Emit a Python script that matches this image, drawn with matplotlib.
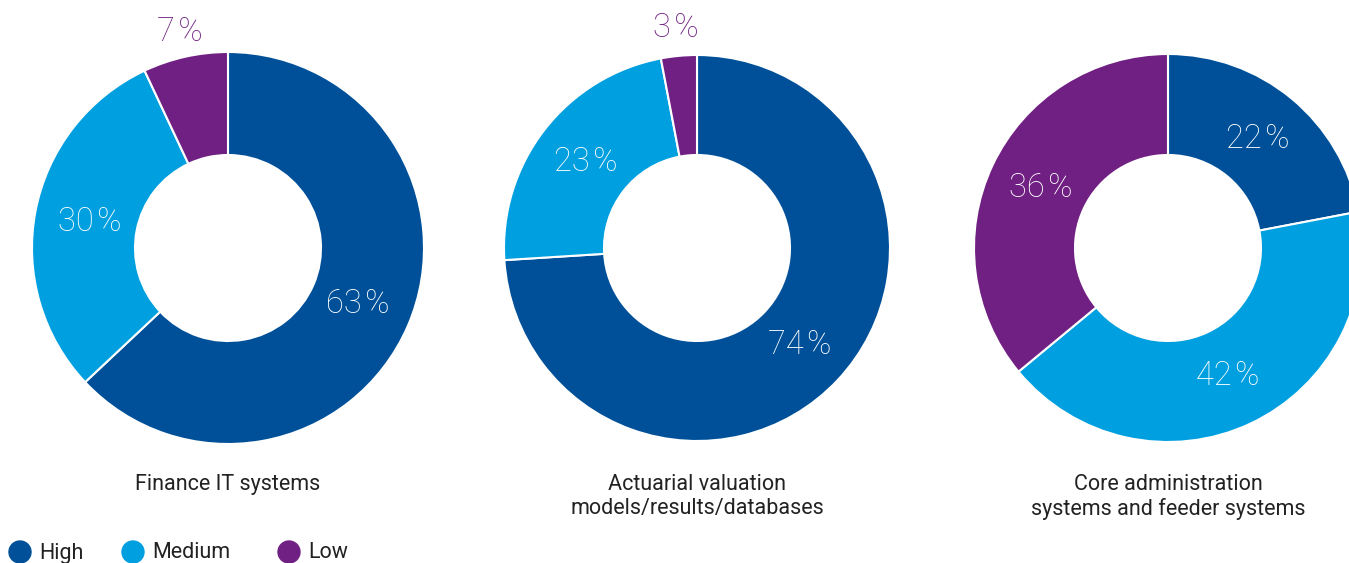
import numpy as np
import matplotlib
matplotlib.use('Agg')
import matplotlib.pyplot as plt

levels = ['High', 'Medium', 'Low']
colors = ['#005099', '#009fdf', '#702082']

titles = ['Finance IT systems',
          'Actuarial valuation\nmodels/results/databases',
          'Core administration\nsystems and feeder systems']
high = [63, 74, 22]
medium = [30, 23, 42]
low = [7, 3, 36]

W, H = 1349, 563
centers = [(228, 248), (697, 248), (1168, 248)]
radii = [196, 193, 194]
hole = 93

plt.rcParams['font.family'] = ['Roboto', 'DejaVu Sans']

fig = plt.figure(figsize=(W / 100, H / 100), dpi=100)
ax = fig.add_axes([0, 0, 1, 1])

for i, title in enumerate(titles):
    vals = [high[i], medium[i], low[i]]
    cx, cy = centers[i]
    cy = H - cy
    r = radii[i]
    ax.pie(vals, colors=colors, startangle=90, counterclock=False,
           center=(cx, cy), radius=r, frame=True,
           wedgeprops=dict(width=r - hole, edgecolor='white', linewidth=1.5))

    # percent labels at the mid angle of each wedge, small ones outside
    start = 90.0
    for v, c in zip(vals, colors):
        mid = np.deg2rad(start - v / 100 * 360 / 2)
        start -= v / 100 * 360
        if v < 10:
            rr, col = 221, c
        else:
            rr, col = 141, 'white'
        ax.text(cx + rr * np.cos(mid), cy + rr * np.sin(mid), f'{v}\u200a%',
                ha='center', va='center', fontsize=23.5, color=col,
                fontweight='light')

    ax.text(cx, H - 474, title, ha='center', va='top', fontsize=15.5,
            color='#222222', linespacing=1.2)

ax.set_xlim(0, W)
ax.set_ylim(0, H)
ax.set_aspect('equal')
ax.axis('off')

# legend along the bottom
leg_x = [20, 133, 289]
for x, lab, c in zip(leg_x, levels, colors):
    ax.add_patch(plt.Circle((x, H - 552), 11, color=c))
    ax.text(x + 19, H - 553, lab, ha='left', va='center', fontsize=15.5,
            color='#222222')

fig.savefig('out.png', dpi=100)
